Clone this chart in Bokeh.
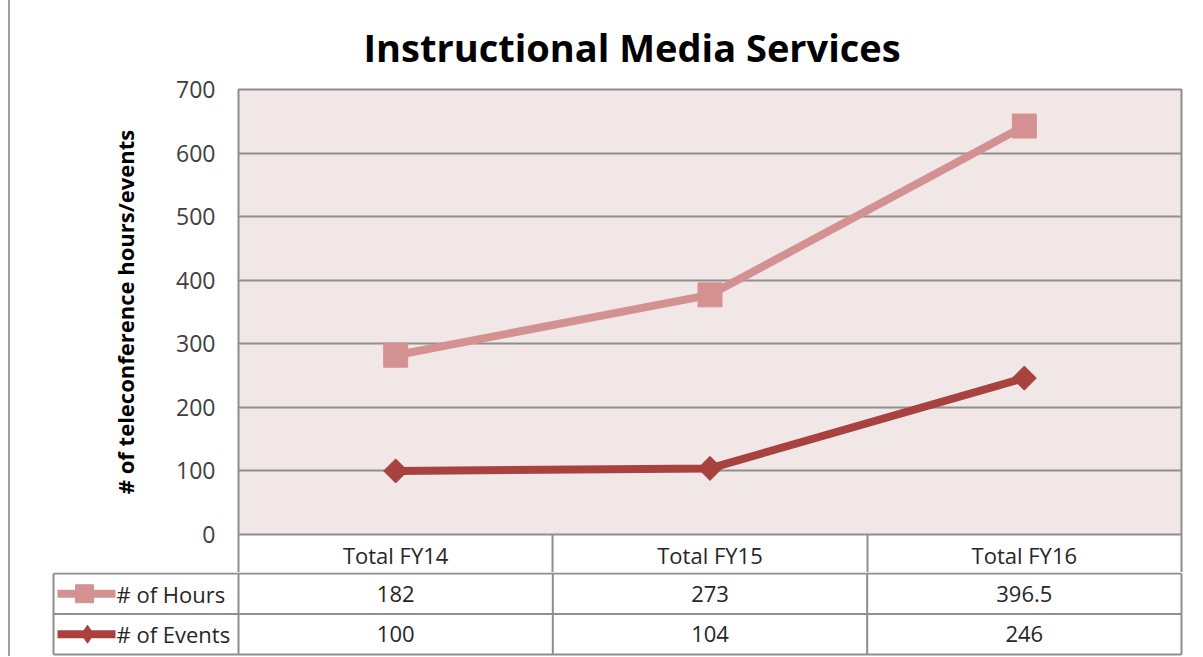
import numpy as np
from bokeh.plotting import figure
from bokeh.models import Range1d, FixedTicker
from bokeh.layouts import column
from bokeh.core.properties import value
from bokeh.embed import file_html
from bokeh.resources import INLINE

# ---- data ----
categories = ["Total FY14", "Total FY15", "Total FY16"]
hours = [182, 273, 396.5]
events = [100, 104, 246]
series_names = ["# of Hours", "# of Events"]
y_ticks = [0, 100, 200, 300, 400, 500, 600, 700]
title_text = "Instructional Media Services"
y_label = "# of teleconference hours/events"

# ---- style ----
HOURS_COLOR = "#D39291"
EVENTS_COLOR = "#A8423F"
BG = "#F2E7E7"
GRID = "#8E8E8E"
FONT = "Open Sans"
TXT = "#262626"

OFF_X = 10
LEFT = 238 - OFF_X
RIGHT = 14
TOP = 89
FRAME_W = 943
FRAME_H = 445
HEADER_H = 38
n = len(categories)
col_px = FRAME_W / n

x = np.arange(n)
stacked_hours = np.array(hours) + np.array(events)  # stacked line chart

p = figure(frame_width=FRAME_W, frame_height=FRAME_H, x_range=Range1d(-0.5, n - 0.5),
           y_range=Range1d(y_ticks[0], y_ticks[-1]),
           output_backend="svg", toolbar_location=None,
           min_border_left=LEFT, min_border_right=RIGHT,
           min_border_bottom=HEADER_H, min_border_top=TOP)
p.frame_align = False
p.title.text = title_text
p.title.align = "left"
p.title.offset = 363 - 238
p.title.text_font = FONT
p.title.text_font_size = "38px"
p.title.text_font_style = "bold"
p.title.text_color = "#000000"
p.title.standoff = 34

p.background_fill_color = BG
p.border_fill_color = "white"
p.outline_line_color = GRID
p.outline_line_width = 2

p.xgrid.visible = False
p.ygrid.ticker = y_ticks
p.ygrid.grid_line_color = GRID
p.ygrid.grid_line_width = 2

ax = p.yaxis[0]
ax.ticker = y_ticks
ax.axis_line_color = None
ax.major_tick_line_color = None
ax.minor_tick_line_color = None
ax.major_label_standoff = 17
ax.major_label_text_font = FONT
ax.major_label_text_font_size = "23px"
ax.major_label_text_color = "#404040"
ax.axis_label = y_label
ax.axis_label_text_font = FONT
ax.axis_label_text_font_size = "22px"
ax.axis_label_text_font_style = "bold"
ax.axis_label_text_color = "#000000"
ax.axis_label_standoff = 33

xa = p.xaxis[0]
xa.ticker = FixedTicker(ticks=list(x), minor_ticks=[i - 0.5 for i in range(n + 1)])
xa.major_label_overrides = {int(i): c for i, c in zip(x, categories)}
xa.axis_line_color = None
xa.major_tick_line_color = None
xa.major_tick_in = 0
xa.major_tick_out = 0
xa.minor_tick_line_color = GRID
xa.minor_tick_line_width = 2
xa.minor_tick_in = 0
xa.minor_tick_out = HEADER_H
xa.major_label_standoff = -33
xa.major_label_text_font = FONT
xa.major_label_text_font_size = "22px"
xa.major_label_text_color = TXT

p.line(x, stacked_hours, line_width=8, color=HOURS_COLOR)
p.scatter(x, stacked_hours, marker="square", size=24, color=HOURS_COLOR)
p.line(x, events, line_width=8, color=EVENTS_COLOR)
p.scatter(x, events, marker="square", angle=np.pi / 4, size=17, color=EVENTS_COLOR)

LABEL_PX = 185
PAD = 2
ROW_PX = 40.5
rows = len(series_names)
u = 1 / ROW_PX
t = figure(frame_width=LABEL_PX + FRAME_W + 2 * PAD, frame_height=int(rows * ROW_PX) + 3,
           x_range=Range1d(-0.5 - (LABEL_PX + PAD) / col_px, n - 0.5 + PAD / col_px),
           y_range=Range1d(rows + 2 * u, -1 * u),
           output_backend="svg", toolbar_location=None,
           x_axis_location=None, y_axis_location=None,
           min_border_left=LEFT - LABEL_PX - PAD, min_border_right=RIGHT - PAD,
           min_border_top=0, min_border_bottom=0)
t.frame_align = False
t.grid.visible = False
t.outline_line_color = None
t.background_fill_color = "white"

x_left = -0.5 - LABEL_PX / col_px
x_right = n - 0.5
hy = list(range(rows + 1))
t.segment(x0=[x_left] * len(hy), y0=hy, x1=[x_right] * len(hy), y1=hy,
          line_color=GRID, line_width=2)
vx = [x_left] + [-0.5 + i for i in range(n + 1)]
t.segment(x0=vx, y0=[0] * len(vx), x1=vx, y1=[rows] * len(vx), line_color=GRID, line_width=2)

tfont = value(FONT)
t.text(x=x, y=[0.5] * n, text=[f"{v:g}" for v in hours], text_align="center",
       text_baseline="middle", text_font=tfont, text_font_size="22px", text_color=TXT)
t.text(x=x, y=[1.5] * n, text=[f"{v:g}" for v in events], text_align="center",
       text_baseline="middle", text_font=tfont, text_font_size="22px", text_color=TXT)

def px2x(px):
    return x_left + px / col_px

key_x0, key_x1, text_x = px2x(4), px2x(62), px2x(63)
t.segment(x0=[key_x0], y0=[0.5], x1=[key_x1], y1=[0.5], line_color=HOURS_COLOR, line_width=8)
t.scatter([px2x(31)], [0.5], marker="square", size=18, color=HOURS_COLOR)
t.segment(x0=[key_x0], y0=[1.5], x1=[key_x1], y1=[1.5], line_color=EVENTS_COLOR, line_width=8)
t.scatter([px2x(34)], [1.5], marker="diamond", size=18, color=EVENTS_COLOR)
t.text(x=[text_x, text_x], y=[0.5, 1.5], text=series_names, text_align="left",
       text_baseline="middle", text_font=tfont, text_font_size="22px", text_color=TXT)

layout = column(p, t, spacing=0, margin=(0, 0, 0, OFF_X - 2),
                styles={"border-left": "2px solid #A0A0A0"})
open("out.html", "w").write(file_html(layout, INLINE))
